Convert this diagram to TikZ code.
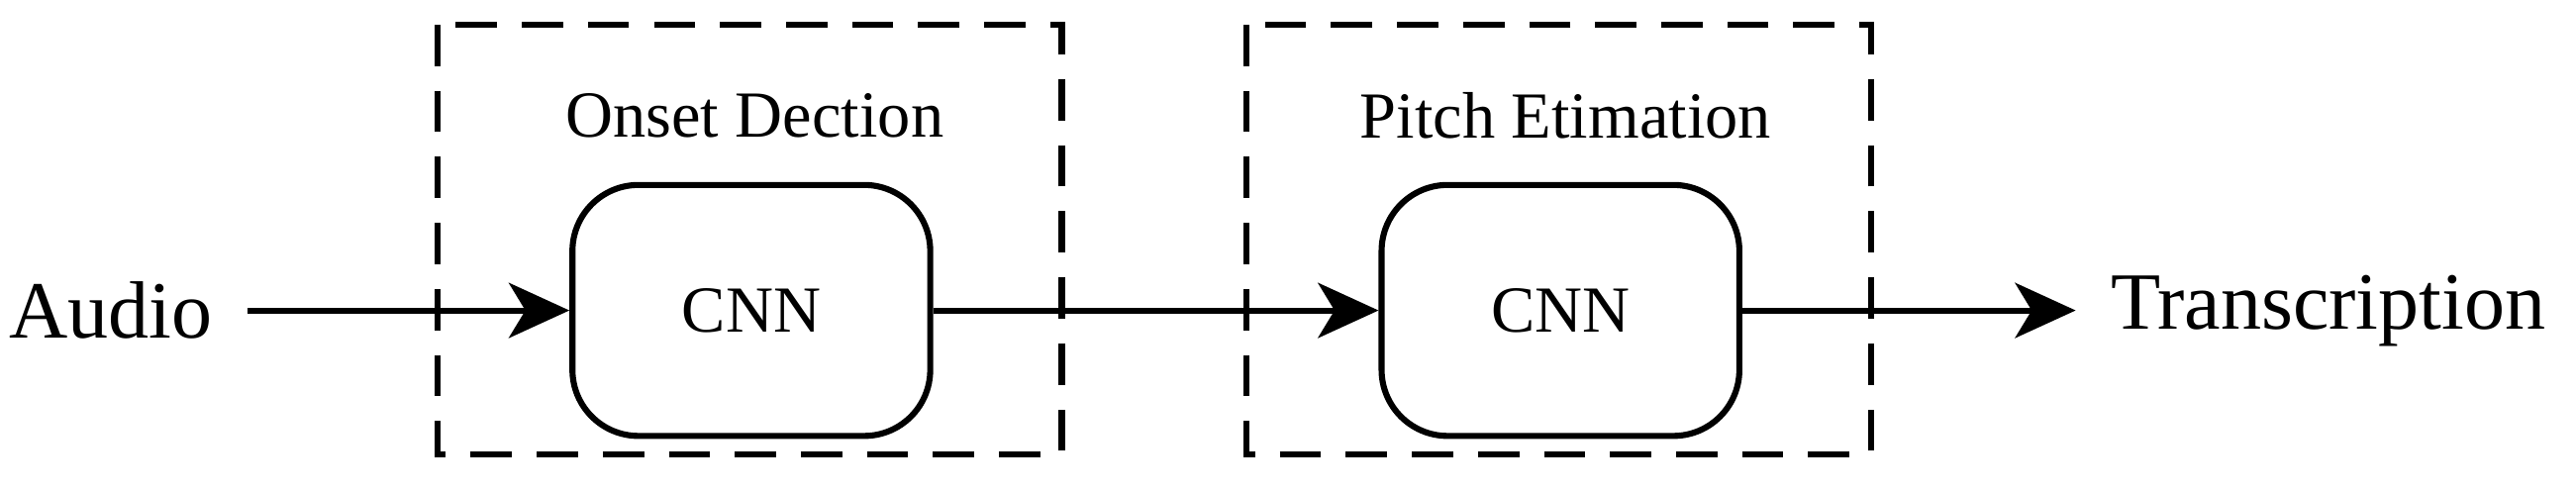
\documentclass[tikz,border=0pt]{standalone}
\usepackage{fontspec}
\setmainfont{Liberation Serif}
\usetikzlibrary{arrows.meta}
\begin{document}
\begin{tikzpicture}[x=0.3mm,y=0.3mm,
  grp/.style={draw,line width=1.1mm,dash pattern=on 7.5mm off 4.5mm},
  cnn/.style={draw,line width=1.1mm,rounded corners=12mm,minimum width=65mm,minimum height=45.6mm,font=\fontsize{34}{40}\selectfont},
  lab/.style={font=\fontsize{34}{40}\selectfont},
  io/.style={font=\fontsize{42}{50}\selectfont},
  arr/.style={line width=1.1mm,-{Stealth[length=11mm,width=10mm,inset=3mm]}}]
\useasboundingbox (0,0) rectangle (1560,298);
\draw[grp] (265,283) rectangle (643,23);
\draw[grp] (755,283) rectangle (1133,23);
\node[lab] (l1) at (457,228) {Onset Dection};
\node[lab] (l2) at (948,228) {Pitch Etimation};
\node[cnn] (c1) at (455,110) {CNN};
\node[cnn] (c2) at (945,110) {CNN};
\node[io] (a) at (67,110) {Audio};
\node[io] (t) at (1410,110) {Transcription};
\coordinate (as) at (150,110);
\coordinate (te) at (1257,110);
\draw[arr] (as) -- (c1.west);
\draw[arr] (c1.east) -- (c2.west);
\draw[arr] (c2.east) -- (te);
\end{tikzpicture}
\end{document}
